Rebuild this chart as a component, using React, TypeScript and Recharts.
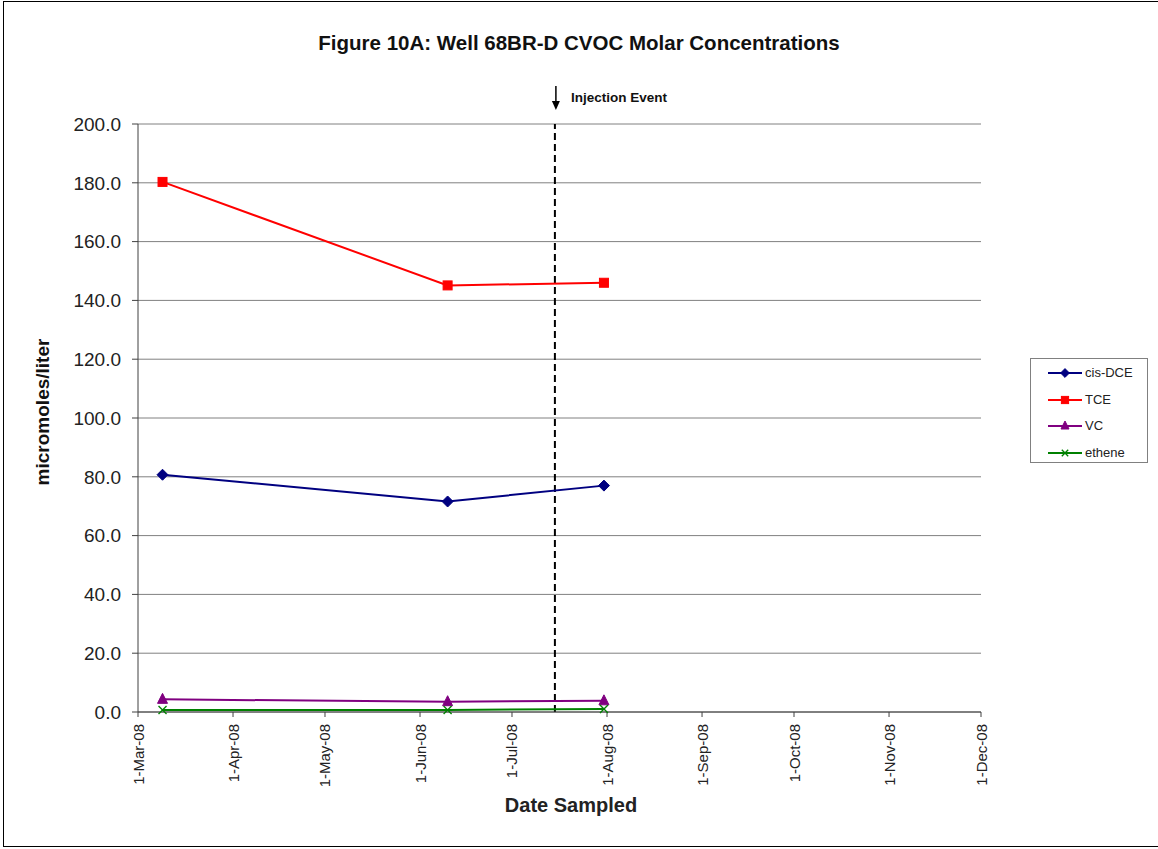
import React from "react";
import { LineChart, Line, XAxis, YAxis, CartesianGrid, ReferenceLine } from "recharts";

const sampleDates = ["2008-03-09", "2008-06-10", "2008-07-31"];
const cisDCE = [80.7, 71.6, 77.0];
const TCE = [180.3, 145.1, 146.0];
const VC = [4.3, 3.5, 3.8];
const ethene = [0.7, 0.7, 1.0];

const tickDates = [
  "2008-03-01", "2008-04-01", "2008-05-01", "2008-06-01", "2008-07-01",
  "2008-08-01", "2008-09-01", "2008-10-01", "2008-11-01", "2008-12-01",
];
const tickLabels = [
  "1-Mar-08", "1-Apr-08", "1-May-08", "1-Jun-08", "1-Jul-08",
  "1-Aug-08", "1-Sep-08", "1-Oct-08", "1-Nov-08", "1-Dec-08",
];
const yTicks = [0, 20, 40, 60, 80, 100, 120, 140, 160, 180, 200];
const injectionDate = "2008-07-15";

const seriesNames = ["cis-DCE", "TCE", "VC", "ethene"];
const seriesColors = ["#000080", "#FF0000", "#800080", "#008000"];

const toTs = (s: string) => Date.parse(s + "T00:00:00Z");

const data = sampleDates.map((d, i) => ({
  t: toTs(d),
  cisDCE: cisDCE[i],
  TCE: TCE[i],
  VC: VC[i],
  ethene: ethene[i],
}));
const tickTs = tickDates.map(toTs);

const FONT = "'Liberation Sans', Arial, sans-serif";

function Marker({ shape, cx, cy, color, s = 1 }: any) {
  if (cx == null || cy == null) return null;
  if (shape === "diamond") {
    const r = 5.5 * s;
    return <polygon points={`${cx},${cy - r} ${cx + r},${cy} ${cx},${cy + r} ${cx - r},${cy}`} fill={color} stroke={color} />;
  }
  if (shape === "square") {
    const r = 4.5 * s;
    return <rect x={cx - r} y={cy - r} width={2 * r} height={2 * r} fill={color} stroke={color} />;
  }
  if (shape === "triangle") {
    const r = 5 * s;
    return <polygon points={`${cx},${cy - r - 1} ${cx + r},${cy + r - 1} ${cx - r},${cy + r - 1}`} fill={color} stroke={color} />;
  }
  const r = 4 * s;
  return (
    <g stroke={color} strokeWidth={1.3}>
      <line x1={cx - r} y1={cy - r} x2={cx + r} y2={cy + r} />
      <line x1={cx - r} y1={cy + r} x2={cx + r} y2={cy - r} />
    </g>
  );
}

const shapes = ["diamond", "square", "triangle", "x"];
const keys = ["cisDCE", "TCE", "VC", "ethene"];

const XTick = (props: any) => {
  const { x, y, payload } = props;
  const idx = tickTs.indexOf(payload.value);
  return (
    <text
      x={x}
      y={y}
      transform={`rotate(-90, ${x}, ${y})`}
      dx={-5}
      dy={5.5}
      textAnchor="end"
      fontFamily={FONT}
      fontSize={15}
      fill="#222"
    >
      {idx >= 0 ? tickLabels[idx] : ""}
    </text>
  );
};

const InjectionLabel = (props: any) => {
  const vb = props.viewBox || {};
  const x = vb.x;
  const y = vb.y;
  return (
    <g>
      <line x1={x + 1} y1={y - 38} x2={x + 1} y2={y - 22} stroke="#000" strokeWidth={1.5} />
      <polygon points={`${x - 3},${y - 23} ${x + 5},${y - 23} ${x + 1},${y - 14}`} fill="#000" />
      <text x={x + 16} y={y - 22} fontFamily={FONT} fontSize={13.5} fontWeight="bold" fill="#111">
        Injection Event
      </text>
    </g>
  );
};

export default function App() {
  return (
    <div style={{ position: "absolute", left: 0, top: 0, width: 1158, height: 849, background: "#fff" }}>
      <div
        style={{
          position: "absolute",
          left: 3,
          top: 1,
          width: 1160,
          height: 846,
          border: "1px solid #000",
          boxSizing: "border-box",
        }}
      />
      <div
        style={{
          position: "absolute",
          left: 0,
          top: 31,
          width: 1158,
          textAlign: "center",
          fontFamily: FONT,
          fontWeight: "bold",
          fontSize: 20.5,
          color: "#111",
        }}
      >
        Figure 10A: Well 68BR-D CVOC Molar Concentrations
      </div>
      <div style={{ position: "absolute", left: 0, top: 0 }}>
        <LineChart width={1158} height={849} data={data} margin={{ top: 124, right: 177, bottom: 57, left: 0 }}>
          <CartesianGrid horizontal vertical={false} stroke="#808080" />
          <XAxis
            dataKey="t"
            type="number"
            scale="linear"
            domain={[tickTs[0], tickTs[tickTs.length - 1]]}
            ticks={tickTs}
            interval={0}
            height={80}
            tick={<XTick />}
            tickSize={5}
            axisLine={{ stroke: "#404040" }}
            tickLine={{ stroke: "#404040" }}
            allowDataOverflow
            label={(p: any) => {
              return (
                <text
                  x={571}
                  y={812}
                  textAnchor="middle"
                  fontFamily={FONT}
                  fontSize={20}
                  fontWeight="bold"
                  fill="#222"
                >
                  Date Sampled
                </text>
              );
            }}
          />
          <YAxis
            type="number"
            domain={[0, 200]}
            ticks={yTicks}
            interval={0}
            width={138}
            tickFormatter={(v: number) => v.toFixed(1)}
            tick={{ fontFamily: FONT, fontSize: 19, fill: "#222" }}
            tickSize={6}
            tickMargin={11}
            axisLine={{ stroke: "#404040" }}
            tickLine={{ stroke: "#404040" }}
            label={(p: any) => {
              const vb = p.viewBox || {};
              const cy = vb.y + vb.height / 2 - 6;
              return (
                <text
                  x={49}
                  y={cy}
                  transform={`rotate(-90, 49, ${cy})`}
                  textAnchor="middle"
                  fontFamily={FONT}
                  fontSize={19}
                  fontWeight="bold"
                  fill="#111"
                >
                  micromoles/liter
                </text>
              );
            }}
          />
          <ReferenceLine
            x={toTs(injectionDate)}
            stroke="#000"
            strokeWidth={2}
            strokeDasharray="7 4"
            label={<InjectionLabel />}
          />
          {keys.map((k, i) => (
            <Line
              key={k}
              dataKey={k}
              name={seriesNames[i]}
              stroke={seriesColors[i]}
              strokeWidth={2}
              isAnimationActive={false}
              dot={(p: any) => (
                <Marker key={`${k}-${p.index}`} shape={shapes[i]} cx={p.cx} cy={p.cy} color={seriesColors[i]} />
              )}
              activeDot={false}
            />
          ))}
        </LineChart>
      </div>
      <div
        style={{
          position: "absolute",
          left: 1030,
          top: 358,
          width: 118,
          height: 105,
          border: "1px solid #808080",
          boxSizing: "border-box",
          background: "#fff",
        }}
      >
        {seriesNames.map((n, i) => (
          <div key={n} style={{ position: "absolute", left: 0, top: 4 + i * 26.5, height: 20, width: 116 }}>
            <svg width={40} height={20} style={{ position: "absolute", left: 14, top: 0 }}>
              <line x1={3} y1={10} x2={37} y2={10} stroke={seriesColors[i]} strokeWidth={2} />
              <Marker shape={shapes[i]} cx={20} cy={10} color={seriesColors[i]} s={0.8} />
            </svg>
            <span
              style={{
                position: "absolute",
                left: 54,
                top: 2,
                fontFamily: FONT,
                fontSize: 13,
                color: "#222",
                whiteSpace: "nowrap",
              }}
            >
              {n}
            </span>
          </div>
        ))}
      </div>
    </div>
  );
}
